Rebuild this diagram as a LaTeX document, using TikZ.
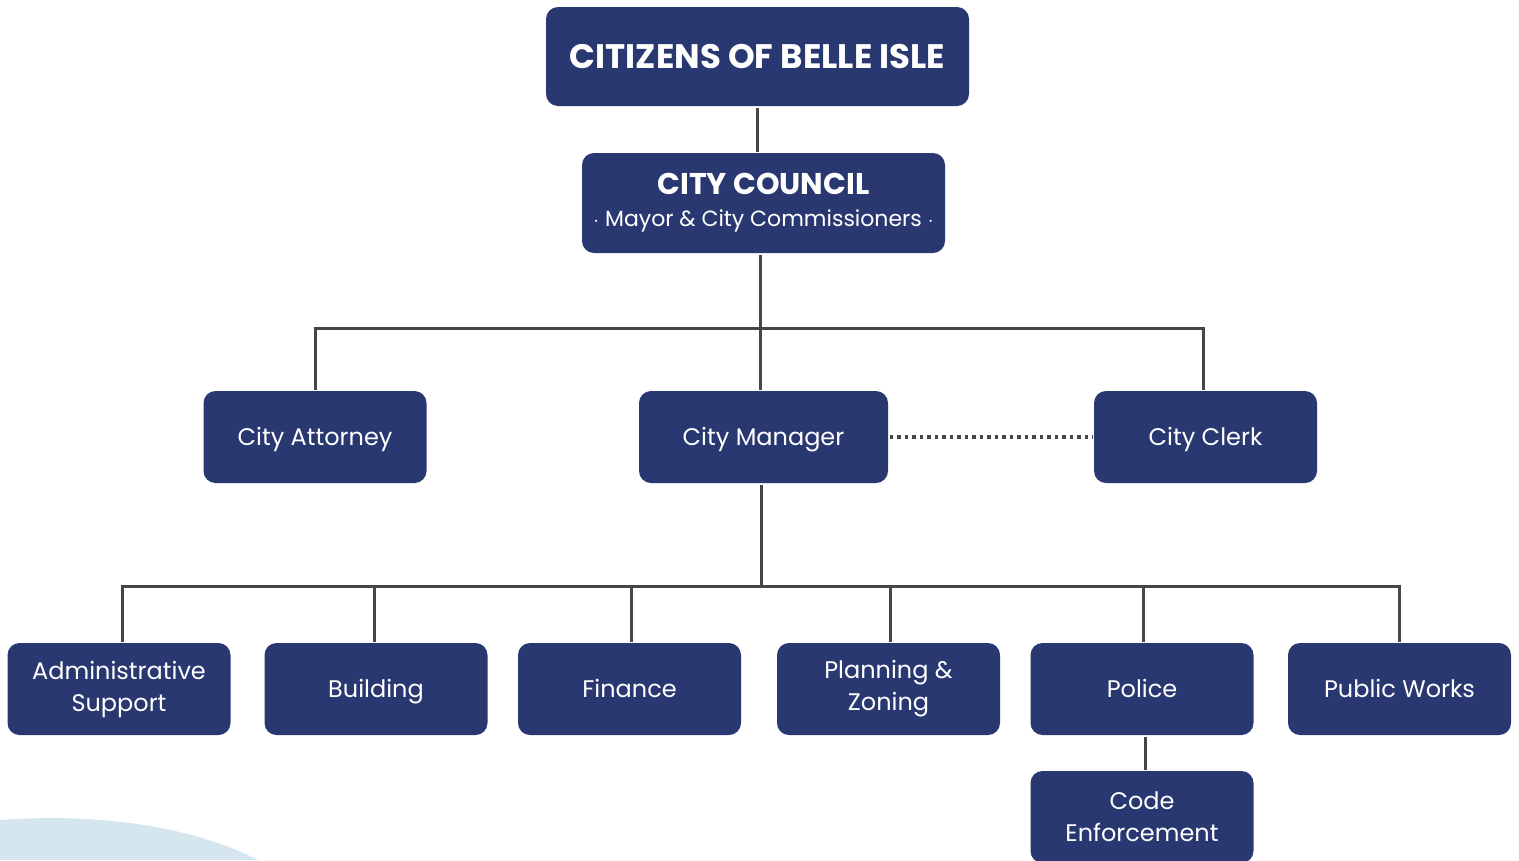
\documentclass[tikz,border=0pt]{standalone}
\usepackage{fontspec}
\setmainfont{Poppins}
\definecolor{navy}{RGB}{41,56,112}
\definecolor{linegray}{RGB}{70,70,72}
\definecolor{paleblue}{RGB}{214,230,238}
\begin{document}
\begin{tikzpicture}[x=1pt,y=-1pt,line width=3pt,
  office/.style={rectangle,rounded corners=12pt,fill=navy,text=white,inner sep=0pt,
    minimum width=223pt,minimum height=92pt,align=center,font=\fontsize{24}{32}\selectfont},
  oneline/.style={office,text height=17pt,text depth=0pt},
  head/.style={office,font=\bfseries\fontsize{34}{38}\selectfont},
  link/.style={draw=linegray}]

  \useasboundingbox (0,0) rectangle (1519,860);
  \fill[paleblue] (0,820) .. controls (110,812) and (200,830) .. (258,860) -- (0,860) -- cycle;

  \node[head, minimum width=423pt, minimum height=99pt] (CB) at (757.5,56.5) {CITIZENS OF BELLE ISLE};
  \node[office, minimum width=363pt, minimum height=100pt, font=\fontsize{22}{30}\selectfont] (CC) at (763.5,203)
    {{\bfseries\fontsize{30}{36}\selectfont CITY COUNCIL}\\[2pt]\(\cdot\) Mayor \& City Commissioners \(\cdot\)};

  \node[oneline] (CA) at (315,437) {City Attorney};
  \node[oneline, minimum width=249pt] (CM) at (763.5,437) {City Manager};
  \node[oneline] (CK) at (1205.5,437) {City Clerk};

  \node[office] (AS) at (119,689) {Administrative\\Support};
  \node[oneline] (BD) at (376,689) {Building};
  \node[oneline] (FN) at (629.5,689) {Finance};
  \node[office] (PZ) at (888.5,689) {Planning \&\\Zoning};
  \node[oneline] (PD) at (1142,689) {Police};
  \node[oneline] (PW) at (1399.5,689) {Public Works};
  \node[office] (CE) at (1142,817) {Code\\Enforcement};

  \coordinate (top bus) at (760,328);
  \coordinate (low bus) at (761,586);

  \draw[link] (CB.south -| 757,0) -- (CC.north -| 757,0);
  \draw[link] (CC.south -| top bus) -- (top bus);
  \draw[link] (CA.north) |- (top bus) -| (CK.north -| 1203,0);
  \draw[link] (top bus) -- (CM.north -| top bus);
  \draw[link] (CM.south -| low bus) -- (low bus);
  \draw[link] (AS.north -| 122,0) |- (low bus) -| (PW.north);
  \foreach \n/\x in {BD/374,FN/631,PZ/890,PD/1143}
    \draw[link] (\n.north -| \x,0) -- (\x,586);
  \draw[link] (PD.south -| 1145,0) -- (CE.north -| 1145,0);
  \draw[link, dotted, line width=3.5pt, dash pattern=on 3.5pt off 4pt] (CM.east) -- (CK.west);
\end{tikzpicture}
\end{document}
